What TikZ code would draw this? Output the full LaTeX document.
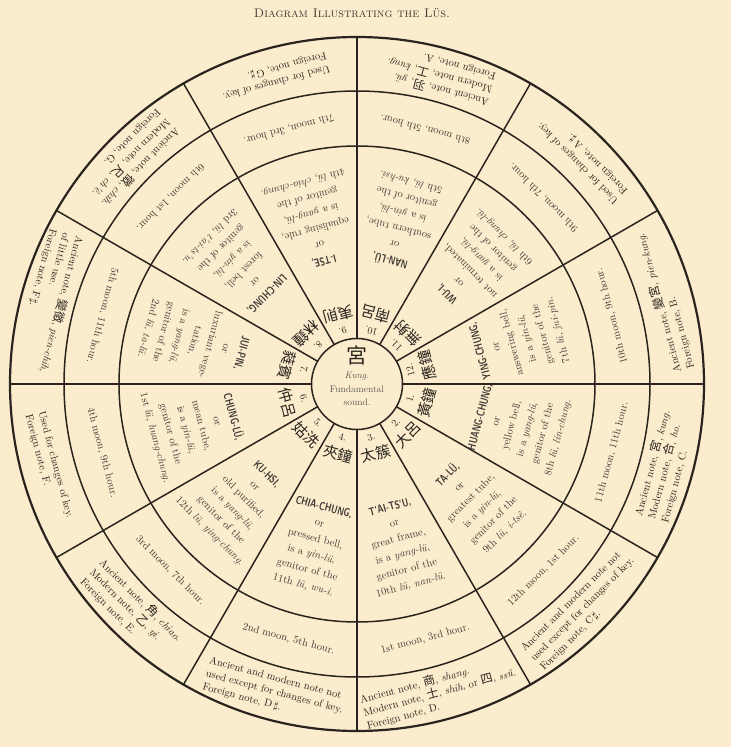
\documentclass[tikz,border=0pt]{standalone}
\usepackage{fontspec}
\newfontfamily\cjk{Noto Sans CJK TC}
\usetikzlibrary{positioning}
\definecolor{paper}{RGB}{250,236,204}
\definecolor{ink}{RGB}{42,36,30}
\tikzset{
  rim/.style={draw=ink, line width=2.2pt},
  ringline/.style={draw=ink, line width=1.5pt},
  numlabel/.style={text=ink, font=\fontsize{10}{12}\selectfont, inner sep=0pt},
  zhlabel/.style={text=ink, font=\cjk\fontsize{15}{16}\selectfont, inner sep=0pt},
  lubox/.style={text=ink!90, align=center, font=\fontsize{10.5}{16}\selectfont, inner sep=0pt},
  moonbox/.style={text=ink!90, font=\fontsize{10.5}{13}\selectfont, inner sep=0pt},
  notebox/.style={text=ink, align=left, font=\fontsize{10.5}{13.5}\selectfont, inner sep=0pt},
}
\newcommand\luname[1]{\scalebox{0.72}[1]{\sffamily\bfseries\fontsize{11.5}{16}\selectfont #1}}
\newcommand\zhn[1]{{\cjk\fontsize{12}{13}\selectfont #1}}
\newcommand\shp{\,$\sharp$}
% one lu sector: number, characters, description
\newcommand\lusector[3]{%
  \pgfmathsetmacro\secang{15-30*#1}%
  \node[numlabel, rotate=\secang+90] (num#1) at (\secang:55pt) {#1.};
  \node[zhlabel, rotate=\secang+90] (zh#1) at (\secang:72pt) {#2};
  \node[lubox, rotate=\secang+90] (lu#1) at (\secang:168pt) {#3};
}
\newcommand\moonsector[2]{%
  \pgfmathsetmacro\secang{15-30*#1}%
  \node[moonbox, rotate=\secang+90] (moon#1) at (\secang:264pt) {#2};
}
\newcommand\notesector[2]{%
  \pgfmathsetmacro\secang{15-30*#1}%
  \node[notebox, rotate=\secang+90] (note#1) at (\secang:319pt) {#2};
}

\begin{document}
\begin{tikzpicture}
  \useasboundingbox (-357pt,-363pt) rectangle (374pt,384pt);
  \fill[paper] (-357pt,-363pt) rectangle (374pt,384pt);

  \node[text=ink!90, font=\fontsize{12.5}{14}\selectfont\scshape] (title) at (-5pt,371pt)
    {Diagram Illustrating the Lüs.};

  % rings and spokes
  \draw[rim] (0,0) circle [radius=347pt];
  \draw[ringline] (0,0) circle [radius=293pt];
  \draw[ringline] (0,0) circle [radius=238pt];
  \draw[ringline] (0,0) circle [radius=45.5pt];
  \foreach \a in {0,30,...,330}
    \draw[ringline] (\a:45.5pt) -- (\a:347pt);

  % the hub
  \node[text=ink, font=\cjk\fontsize{21}{22}\selectfont, inner sep=0pt] (hubzh) at (0,29pt) {宮};
  \node[text=ink!75, align=center, font=\fontsize{9.5}{13.5}\selectfont, inner sep=0pt,
        below=7pt of hubzh] (hub) {\textit{Kung.}\\Fundamental\\sound.};

  % the twelve lus
  \lusector{1}{黃鐘}{\luname{HUANG-CHUNG,}\\or\\yellow bell,\\is a \textit{yang-lü},\\genitor of the\\8th \textit{lü, lin-chung.}}
  \lusector{2}{大呂}{\luname{TA-LÜ,}\\or\\greatest tube,\\is a \textit{yin-lü},\\genitor of the\\9th \textit{lü, i-tsê.}}
  \lusector{3}{太簇}{\luname{T'AI-TS'U,}\\or\\great frame,\\is a \textit{yang-lü},\\genitor of the\\10th \textit{lü, nan-lü.}}
  \lusector{4}{夾鐘}{\luname{CHIA-CHUNG,}\\or\\pressed bell,\\is a \textit{yin-lü},\\genitor of the\\11th \textit{lü, wu-i.}}
  \lusector{5}{姑洗}{\luname{KU-HSI,}\\or\\old purified,\\is a \textit{yang-lü},\\genitor of the\\12th \textit{lü, ying-chung.}}
  \lusector{6}{仲呂}{\luname{CHUNG-LÜ,}\\or\\mean tube,\\is a \textit{yin-lü},\\genitor of the\\1st \textit{lü, huang-chung.}}
  \lusector{7}{蕤賓}{\luname{JUI-PIN,}\\or\\luxuriant vege-\\tation,\\is a \textit{yang-lü},\\genitor of the\\2nd \textit{lü, ta-lü.}}
  \lusector{8}{林鐘}{\luname{LIN-CHUNG,}\\or\\forest bell,\\is a \textit{yin-lü},\\genitor of the\\3rd \textit{lü, t'ai-ts'u.}}
  \lusector{9}{夷則}{\luname{I-TSE,}\\or\\equalising rule,\\is a \textit{yang-lü},\\genitor of the\\4th \textit{lü, chia-chung.}}
  \lusector{10}{南呂}{\luname{NAN-LÜ,}\\or\\southern tube,\\is a \textit{yin-lü},\\genitor of the\\5th \textit{lü, ku-hsi.}}
  \lusector{11}{無射}{\luname{WU-I,}\\or\\not terminated,\\is a \textit{yang-lü},\\genitor of the\\6th \textit{lü, chung-lü.}}
  \lusector{12}{應鐘}{\luname{YING-CHUNG,}\\or\\answering bell,\\is a \textit{yin-lü},\\genitor of the\\7th \textit{lü, jui-pin.}}

  % moons and hours
  \moonsector{1}{11th moon, 11th hour.}
  \moonsector{2}{12th moon, 1st hour.}
  \moonsector{3}{1st moon, 3rd hour.}
  \moonsector{4}{2nd moon, 5th hour.}
  \moonsector{5}{3rd moon, 7th hour.}
  \moonsector{6}{4th moon, 9th hour.}
  \moonsector{7}{5th moon, 11th hour.}
  \moonsector{8}{6th moon, 1st hour.}
  \moonsector{9}{7th moon, 3rd hour.}
  \moonsector{10}{8th moon, 5th hour.}
  \moonsector{11}{9th moon, 7th hour.}
  \moonsector{12}{10th moon, 9th hour.}

  % notes
  \notesector{1}{Ancient note, \zhn{宮}, \textit{kung.}\\Modern note, \zhn{合}, \textit{ho.}\\Foreign note, C.}
  \notesector{2}{Ancient and modern note not\\used except for changes of key.\\Foreign note, C\shp.}
  \notesector{3}{Ancient note, \zhn{商}, \textit{shang.}\\Modern note, \zhn{士}, \textit{shih}, or \zhn{四}, \textit{ssŭ.}\\Foreign note, D.}
  \notesector{4}{Ancient and modern note not\\used except for changes of key.\\Foreign note, D\shp.}
  \notesector{5}{Ancient note, \zhn{角}, \textit{chiao.}\\Modern note, \zhn{乙}, \textit{yi.}\\Foreign note, E.}
  \notesector{6}{Used for changes of key.\\Foreign note, F.}
  \notesector{7}{Ancient note, \zhn{變徵}, \textit{pien-chih,}\\of little use.\\Foreign note, F\shp.}
  \notesector{8}{Ancient note, \zhn{徵}, \textit{chih.}\\Modern note, \zhn{尺}, \textit{ch'ê.}\\Foreign note, G.}
  \notesector{9}{Used for changes of key.\\Foreign note, G\shp.}
  \notesector{10}{Ancient note, \zhn{羽}, \textit{yü.}\\Modern note, \zhn{工}, \textit{kung.}\\Foreign note, A.}
  \notesector{11}{Used for changes of key.\\Foreign note, A\shp.}
  \notesector{12}{Ancient note, \zhn{變宮}, \textit{pien-kung.}\\Foreign note, B.}
\end{tikzpicture}
\end{document}
